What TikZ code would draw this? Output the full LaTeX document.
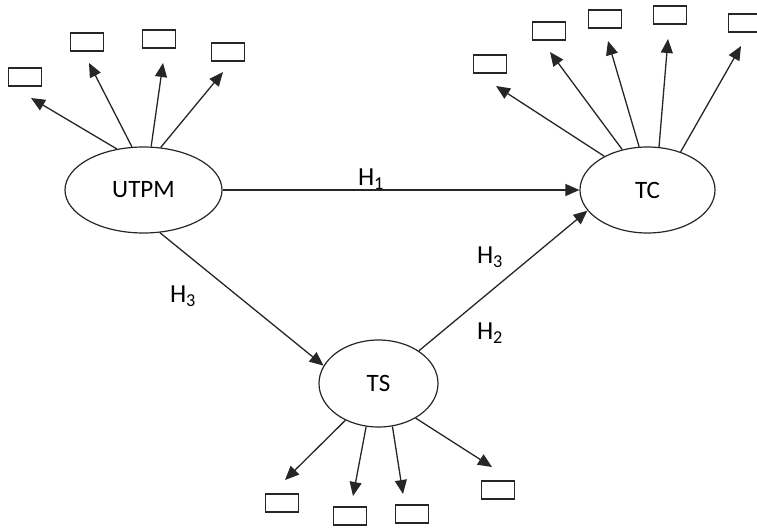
\documentclass[tikz,border=0pt]{standalone}
\usepackage{fontspec}
\setmainfont{Carlito}
\usetikzlibrary{shapes.geometric,arrows.meta}
\tikzset{
  latent/.style={draw=black!85, line width=1.2pt, ellipse, inner sep=0pt, font=\fontsize{25}{29}\selectfont},
  ind/.style={draw=black!85, line width=1.2pt, minimum width=33pt, minimum height=18pt, inner sep=0pt},
  arr/.style={draw=black!85, line width=1.3pt, -{Triangle[length=14pt,width=12pt]}},
  hlab/.style={font=\fontsize{26}{30}\selectfont, inner sep=0pt}
}
\begin{document}
\begin{tikzpicture}[x=1pt,y=-1pt]
\useasboundingbox (0,0) rectangle (757,527);
% latent variables
\node[latent, minimum width=157pt, minimum height=86pt] (utpm) at (143.5,190) {UTPM};
\node[latent, minimum width=135pt, minimum height=86pt] (tc) at (647.5,190) {TC};
\node[latent, minimum width=119pt, minimum height=87pt] (ts) at (378.5,383.5) {TS};
% indicator boxes
\node[ind] (u1) at (25,77) {};
\node[ind] (u2) at (87,42) {};
\node[ind] (u3) at (159,39) {};
\node[ind] (u4) at (228,52) {};
\node[ind] (c1) at (490,64) {};
\node[ind] (c2) at (549,31) {};
\node[ind] (c3) at (605,19) {};
\node[ind] (c4) at (670,15) {};
\node[ind] (c5) at (745,23) {};
\node[ind] (s1) at (282,503) {};
\node[ind] (s2) at (350,516) {};
\node[ind] (s3) at (412,514) {};
\node[ind] (s4) at (498,490) {};
% arrow tips
\coordinate (tu1) at (31,98);
\coordinate (tu2) at (89,63);
\coordinate (tu3) at (163,63);
\coordinate (tu4) at (223,72);
\coordinate (tc1) at (496,86);
\coordinate (tc2) at (550,52);
\coordinate (tc3) at (608,41);
\coordinate (tc4) at (668,39);
\coordinate (tc5) at (741,46);
\coordinate (ts1) at (285,480);
\coordinate (ts2) at (353,496);
\coordinate (ts3) at (403,494);
\coordinate (ts4) at (492,467);
% indicator arrows
\draw[arr] (utpm.123) -- (tu1);
\draw[arr] (utpm.105) -- (tu2);
\draw[arr] (utpm.80) -- (tu3);
\draw[arr] (utpm.68) -- (tu4);
\draw[arr] (tc.142) -- (tc1);
\draw[arr] (tc.122) -- (tc2);
\draw[arr] (tc.101) -- (tc3);
\draw[arr] (tc.75) -- (tc4);
\draw[arr] (tc.49) -- (tc5);
\draw[arr] (ts.228) -- (ts1);
\draw[arr] (ts.254) -- (ts2);
\draw[arr] (ts.288) -- (ts3);
\draw[arr] (ts.317) -- (ts4);
% structural paths
\draw[arr] (utpm.east) -- (tc.west);
\draw[arr] (utpm.291) -- (ts.162);
\draw[arr] (ts.39) -- (tc.199);
% labels
\node[hlab] (h1) at (371,179) {H\textsubscript{1}};
\node[hlab] (h3a) at (183,296) {H\textsubscript{3}};
\node[hlab] (h3b) at (490,257) {H\textsubscript{3}};
\node[hlab] (h2) at (490,333) {H\textsubscript{2}};
\end{tikzpicture}
\end{document}
